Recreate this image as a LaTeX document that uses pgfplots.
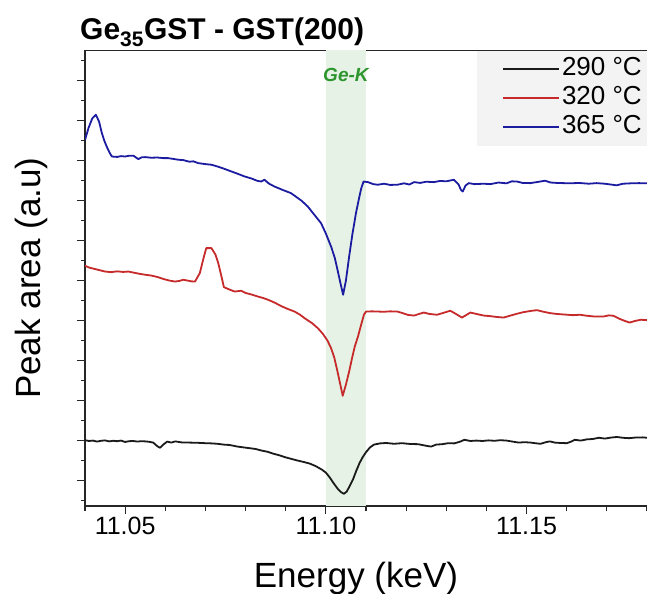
\documentclass[border=0pt]{standalone}
\usepackage{pgfplots}
\pgfplotsset{compat=1.18}
\usepackage{fontspec}
\setmainfont{Liberation Sans}

\definecolor{c290}{RGB}{26,26,26}
\definecolor{c320}{RGB}{198,42,42}
\definecolor{c365}{RGB}{28,28,160}
\definecolor{bandgreen}{RGB}{230,242,230}
\definecolor{labgreen}{RGB}{46,150,46}
\definecolor{legbg}{RGB}{243,243,243}

\pgfplotstableread{
E y
11.0400 3.02
11.0410 2.98
11.0420 3.00
11.0430 2.95
11.0440 2.99
11.0450 3.01
11.0460 2.96
11.0470 2.99
11.0480 2.97
11.0490 3.00
11.0500 2.93
11.0510 2.97
11.0520 2.98
11.0530 2.95
11.0540 2.97
11.0550 2.96
11.0560 2.94
11.0570 2.90
11.0580 2.72
11.0587 2.64
11.0595 2.80
11.0605 2.95
11.0615 2.90
11.0625 2.96
11.0640 2.91
11.0660 2.90
11.0680 2.89
11.0700 2.87
11.0715 2.86
11.0730 2.84
11.0745 2.80
11.0760 2.78
11.0780 2.70
11.0795 2.66
11.0810 2.62
11.0825 2.58
11.0840 2.50
11.0855 2.44
11.0870 2.34
11.0885 2.26
11.0900 2.16
11.0915 2.08
11.0930 2.00
11.0945 1.93
11.0960 1.85
11.0975 1.72
11.0990 1.55
11.1000 1.40
11.1010 1.15
11.1020 0.85
11.1030 0.58
11.1038 0.42
11.1045 0.34
11.1052 0.45
11.1060 0.75
11.1068 1.08
11.1076 1.50
11.1084 1.88
11.1092 2.18
11.1100 2.42
11.1110 2.66
11.1120 2.80
11.1135 2.86
11.1150 2.88
11.1170 2.84
11.1190 2.87
11.1210 2.83
11.1230 2.82
11.1250 2.74
11.1262 2.70
11.1275 2.80
11.1290 2.82
11.1305 2.87
11.1320 2.86
11.1335 2.95
11.1345 3.04
11.1360 2.98
11.1375 3.00
11.1390 2.98
11.1405 3.01
11.1420 2.99
11.1435 3.02
11.1450 3.00
11.1465 2.95
11.1480 2.90
11.1495 2.92
11.1510 2.90
11.1525 2.86
11.1535 2.84
11.1548 2.92
11.1558 2.96
11.1570 2.90
11.1585 2.88
11.1600 2.87
11.1610 2.94
11.1620 3.04
11.1635 3.00
11.1650 3.06
11.1665 3.08
11.1680 3.14
11.1695 3.10
11.1710 3.15
11.1725 3.18
11.1740 3.14
11.1755 3.12
11.1770 3.15
11.1790 3.16
11.1800 3.14
}\tblA

\pgfplotstableread{
E y
11.0400 11.74
11.0410 11.65
11.0420 11.60
11.0430 11.55
11.0440 11.50
11.0450 11.45
11.0465 11.42
11.0480 11.46
11.0495 11.43
11.0508 11.45
11.0520 11.40
11.0535 11.34
11.0550 11.29
11.0565 11.25
11.0580 11.18
11.0595 11.08
11.0610 11.00
11.0624 10.95
11.0635 10.98
11.0645 11.04
11.0655 11.00
11.0665 10.96
11.0674 10.95
11.0686 11.37
11.0695 12.10
11.0702 12.62
11.0715 12.62
11.0725 12.30
11.0732 11.87
11.0740 11.20
11.0746 10.67
11.0760 10.55
11.0773 10.45
11.0789 10.49
11.0800 10.38
11.0815 10.30
11.0831 10.20
11.0845 10.12
11.0856 10.04
11.0872 9.90
11.0889 9.72
11.0905 9.58
11.0922 9.45
11.0935 9.30
11.0947 9.12
11.0965 8.88
11.0980 8.62
11.0992 8.35
11.1004 8.00
11.1013 7.62
11.1021 7.15
11.1029 6.45
11.1036 5.80
11.1042 5.24
11.1050 5.80
11.1058 6.45
11.1065 7.10
11.1072 7.70
11.1080 8.20
11.1088 8.80
11.1095 9.30
11.1100 9.45
11.1115 9.46
11.1129 9.45
11.1145 9.44
11.1160 9.46
11.1178 9.45
11.1190 9.38
11.1205 9.28
11.1220 9.25
11.1232 9.33
11.1244 9.40
11.1258 9.33
11.1277 9.29
11.1292 9.38
11.1310 9.49
11.1325 9.32
11.1339 9.15
11.1350 9.28
11.1360 9.40
11.1375 9.33
11.1393 9.25
11.1410 9.22
11.1425 9.18
11.1443 9.15
11.1460 9.25
11.1476 9.34
11.1492 9.42
11.1510 9.48
11.1526 9.52
11.1542 9.44
11.1559 9.37
11.1575 9.33
11.1595 9.30
11.1615 9.27
11.1633 9.29
11.1650 9.24
11.1670 9.20
11.1691 9.20
11.1705 9.26
11.1716 9.24
11.1730 9.10
11.1745 8.98
11.1757 8.90
11.1770 8.98
11.1785 9.04
11.1800 9.02
}\tblB

\pgfplotstableread{
E y
11.0400 18.03
11.0409 18.64
11.0418 19.10
11.0427 19.29
11.0435 18.95
11.0442 18.37
11.0448 18.00
11.0454 17.70
11.0461 17.40
11.0467 17.20
11.0480 17.18
11.0490 17.22
11.0500 17.20
11.0510 17.24
11.0521 17.24
11.0527 17.15
11.0533 17.07
11.0541 17.16
11.0550 17.17
11.0565 17.14
11.0580 17.15
11.0595 17.12
11.0607 17.12
11.0620 17.08
11.0632 17.04
11.0645 17.02
11.0660 16.94
11.0670 16.96
11.0682 16.87
11.0700 16.82
11.0715 16.79
11.0730 16.70
11.0745 16.60
11.0765 16.45
11.0780 16.34
11.0798 16.20
11.0815 16.10
11.0830 15.98
11.0839 15.95
11.0847 16.04
11.0858 15.85
11.0872 15.70
11.0890 15.55
11.0913 15.37
11.0925 15.20
11.0940 14.98
11.0955 14.70
11.0970 14.32
11.0988 13.87
11.1000 13.35
11.1013 12.70
11.1022 12.15
11.1029 11.54
11.1036 10.90
11.1043 10.29
11.1050 11.00
11.1058 12.20
11.1066 13.30
11.1075 14.37
11.1082 15.05
11.1088 15.60
11.1094 15.95
11.1105 15.92
11.1118 15.82
11.1129 15.79
11.1145 15.84
11.1160 15.78
11.1178 15.79
11.1195 15.86
11.1208 15.80
11.1220 15.92
11.1235 15.88
11.1250 15.94
11.1269 15.92
11.1285 15.98
11.1300 15.96
11.1319 16.04
11.1326 15.90
11.1331 15.79
11.1336 15.55
11.1341 15.45
11.1348 15.75
11.1356 15.87
11.1370 15.82
11.1393 15.84
11.1410 15.82
11.1430 15.90
11.1450 15.86
11.1463 15.96
11.1476 15.95
11.1490 15.88
11.1509 15.87
11.1525 15.92
11.1546 15.99
11.1560 15.90
11.1575 15.88
11.1592 15.87
11.1610 15.86
11.1630 15.88
11.1655 15.84
11.1674 15.87
11.1695 15.84
11.1710 15.80
11.1724 15.76
11.1740 15.84
11.1760 15.86
11.1780 15.87
11.1800 15.86
}\tblC

\begin{document}
\begin{tikzpicture}
\useasboundingbox (0,0) rectangle (647bp,594bp);
\begin{axis}[
  at={(85bp,88bp)}, anchor=south west,
  scale only axis, width=562bp, height=455.5bp,
  xmin=11.04, xmax=11.18, ymin=-0.27, ymax=22.5,
  axis x line=box, axis y line*=left,
  y axis line style={-}, axis line style={line width=1.2bp, black!85},
  tick align=outside, xtick pos=lower, ytick pos=left,
  major tick length=8bp, minor tick length=4.5bp,
  every tick/.style={line width=1.1bp, black!85},
  xtick={11.05,11.10,11.15},
  minor xtick={11.04,11.06,11.07,11.08,11.09,11.11,11.12,11.13,11.14,11.16,11.17,11.18},
  ytick={1,3,5,7,9,11,13,15,17,19,21},
  minor ytick={0,2,4,6,8,10,12,14,16,18,20,22},
  yticklabels={},
  xticklabel style={/pgf/number format/.cd, fixed, fixed zerofill, precision=2, assume math mode=true},
  ticklabel style={font=\fontsize{25bp}{29bp}\selectfont},
  xlabel={Energy (keV)}, ylabel={Peak area (a.u)},
  label style={font=\fontsize{35bp}{40bp}\selectfont},
  xlabel style={at={(rel axis cs:0.5,0)}, anchor=base, yshift=-81bp, xshift=-10bp},
  ylabel style={at={(rel axis cs:0,0.5)}, anchor=center, yshift=54bp},
  legend style={at={(rel axis cs:1,1)}, anchor=north east, draw=none, fill=legbg,
    font=\fontsize{26bp}{30bp}\selectfont, row sep=0bp, inner xsep=3bp, inner ysep=4bp,
    nodes={inner sep=2bp, text height=19bp, text depth=6bp},
    cells={anchor=west}},
  legend image code/.code={\path (-22bp,0bp); \draw[#1, line width=1.7bp] (0bp,0bp) -- (56bp,0bp);},
  every axis plot/.append style={line width=1.8bp, line join=round},
]
\fill[bandgreen] (axis cs:11.10,-0.27) rectangle (axis cs:11.11,22.5);
\addplot[c290] table[x=E, y=y] {\tblA};
\addlegendentry{290 °C}
\addplot[c320] table[x=E, y=y] {\tblB};
\addlegendentry{320 °C}
\addplot[c365] table[x=E, y=y] {\tblC};
\addlegendentry{365 °C}
\node[font=\fontsize{19bp}{22bp}\selectfont\bfseries\itshape, text=labgreen]
  at (axis cs:11.105,21.3) {Ge-K};
\end{axis}
\node[anchor=base west, font=\fontsize{30bp}{34bp}\selectfont\bfseries, inner sep=0pt]
  at (80bp,554bp) {Ge\textsubscript{35}GST - GST(200)};
\end{tikzpicture}
\end{document}
